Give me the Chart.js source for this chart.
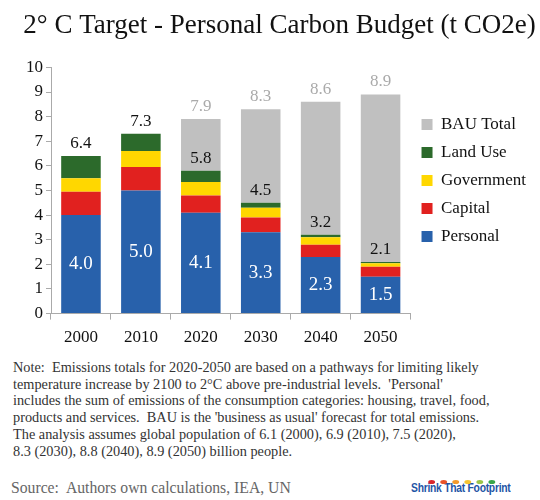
<!DOCTYPE html>
<html>
<head>
<meta charset="utf-8">
<script src="https://cdn.jsdelivr.net/npm/chart.js@4"></script>
<style>
  body { margin: 0; background: #fff; width: 540px; height: 500px; position: relative; overflow: hidden; }
  #wrap { position: absolute; left: 0; top: 0; width: 540px; height: 356px; }
  #note { position: absolute; left: 13px; top: 359px; font-family: "Liberation Serif", serif; font-size: 14.3px; line-height: 16.7px; color: #333; white-space: nowrap; }
  #source { position: absolute; left: 11px; top: 479px; font-family: "Liberation Serif", serif; font-size: 15.7px; color: #666; }
  #logo { position: absolute; left: 411px; top: 481px; font-family: "Liberation Sans", sans-serif; font-weight: bold; font-size: 12px; color: #1e55a5; letter-spacing: -0.3px; white-space: nowrap; transform: scaleX(0.86); transform-origin: left top; }
  #logo .dots { position: absolute; left: 20px; top: -8px; white-space: nowrap; }
  #logo .dots span { display: inline-block; width: 8px; height: 4px; border-radius: 50%; margin-right: 6px; }
</style>
</head>
<body>
<div id="wrap"><canvas id="budget"></canvas></div>
<div id="note">Note:&nbsp; Emissions totals for 2020-2050 are based on a pathways for limiting likely<br>
temperature increase by 2100 to 2°C above pre-industrial levels.&nbsp; 'Personal'<br>
includes the sum of emissions of the consumption categories: housing, travel, food,<br>
products and services.&nbsp; BAU is the 'business as usual' forecast for total emissions.<br>
The analysis assumes global population of 6.1 (2000), 6.9 (2010), 7.5 (2020),<br>
8.3 (2030), 8.8 (2040), 8.9 (2050) billion people.</div>
<div id="source">Source:&nbsp; Authors own calculations, IEA, UN</div>
<div id="logo"><div class="dots"><span style="background:#d9262b"></span><span style="background:#e8542a"></span><span style="background:#f39a2b"></span><span style="background:#f6c531"></span><span style="background:#9bc54a"></span><span style="background:#3aa64a"></span></div>Shrink That Footprint</div>
<script>
var years = ['2000', '2010', '2020', '2030', '2040', '2050'];
var personal = [4.0, 5.0, 4.1, 3.3, 2.3, 1.5];
var capital = [0.95, 0.95, 0.7, 0.6, 0.5, 0.4];
var government = [0.55, 0.65, 0.55, 0.4, 0.3, 0.15];
var landUse = [0.9, 0.7, 0.45, 0.2, 0.1, 0.05];
var bauExtra = [null, null, 2.1, 3.8, 5.4, 6.8];

// labels printed on the bars
var budgetTotals = ['6.4', '7.3', '5.8', '4.5', '3.2', '2.1'];
var bauTotals = [null, null, '7.9', '8.3', '8.6', '8.9'];

var serif = '"Liberation Serif", serif';

var barLabels = {
	id: 'barLabels',
	afterDatasetsDraw: function(chart) {
		var ctx = chart.ctx;
		var pers = chart.getDatasetMeta(0).data;
		var land = chart.getDatasetMeta(3).data;
		var bau = chart.getDatasetMeta(4).data;
		ctx.save();
		ctx.textAlign = 'center';
		for (var i = 0; i < years.length; i++) {
			var p = pers[i];
			ctx.font = '19px ' + serif;
			ctx.fillStyle = '#ffffff';
			ctx.textBaseline = 'middle';
			ctx.fillText(personal[i].toFixed(1), p.x, (p.y + p.base) / 2);

			ctx.font = '17px ' + serif;
			ctx.textBaseline = 'bottom';
			ctx.fillStyle = '#111111';
			ctx.fillText(budgetTotals[i], land[i].x, land[i].y - 4);

			if (bauTotals[i]) {
				ctx.fillStyle = '#aaaaaa';
				ctx.fillText(bauTotals[i], bau[i].x, bau[i].y - 4);
			}
		}
		ctx.restore();
	}
};

var ctx = document.getElementById('budget').getContext('2d');

new Chart(ctx, {
	type: 'bar',
	data: {
		labels: years,
		datasets: [
			{ label: 'Personal', data: personal, backgroundColor: '#2861ab' },
			{ label: 'Capital', data: capital, backgroundColor: '#e1211f' },
			{ label: 'Government', data: government, backgroundColor: '#ffd700' },
			{ label: 'Land Use', data: landUse, backgroundColor: '#2c6a2b' },
			{ label: 'BAU Total', data: bauExtra, backgroundColor: '#c0c0c0' }
		]
	},
	options: {
		responsive: true,
		maintainAspectRatio: false,
		animation: false,
		datasets: { bar: { categoryPercentage: 1, barPercentage: 0.66 } },
		layout: { padding: { left: 23, right: 4, top: 0, bottom: 0 } },
		scales: {
			x: {
				stacked: true,
				grid: { display: true, drawOnChartArea: false, tickLength: 6, color: '#aaaaaa' },
				border: { color: '#aaaaaa' },
				ticks: { color: '#111', font: { family: serif, size: 17 }, padding: 8 }
			},
			y: {
				stacked: true,
				min: 0,
				max: 10,
				grid: { display: true, drawOnChartArea: false, tickLength: 5, color: '#aaaaaa' },
				border: { color: '#aaaaaa' },
				ticks: { stepSize: 1, color: '#111', font: { family: serif, size: 17 }, padding: 3 }
			}
		},
		plugins: {
			title: {
				display: true,
				text: '2° C Target - Personal Carbon Budget (t CO2e)',
				color: '#111',
				font: { family: serif, size: 27, weight: 'normal' },
				padding: { top: 10, bottom: 25 }
			},
			legend: {
				position: 'right',
				reverse: true,
				// blank title only nudges the legend items down a little
				title: { display: true, text: ' ', font: { size: 4 }, padding: 0 },
				labels: {
					boxWidth: 11,
					boxHeight: 11,
					padding: 11,
					color: '#111',
					font: { family: serif, size: 17 }
				}
			},
			tooltip: { enabled: false }
		}
	},
	plugins: [barLabels]
});
</script>
</body>
</html>
